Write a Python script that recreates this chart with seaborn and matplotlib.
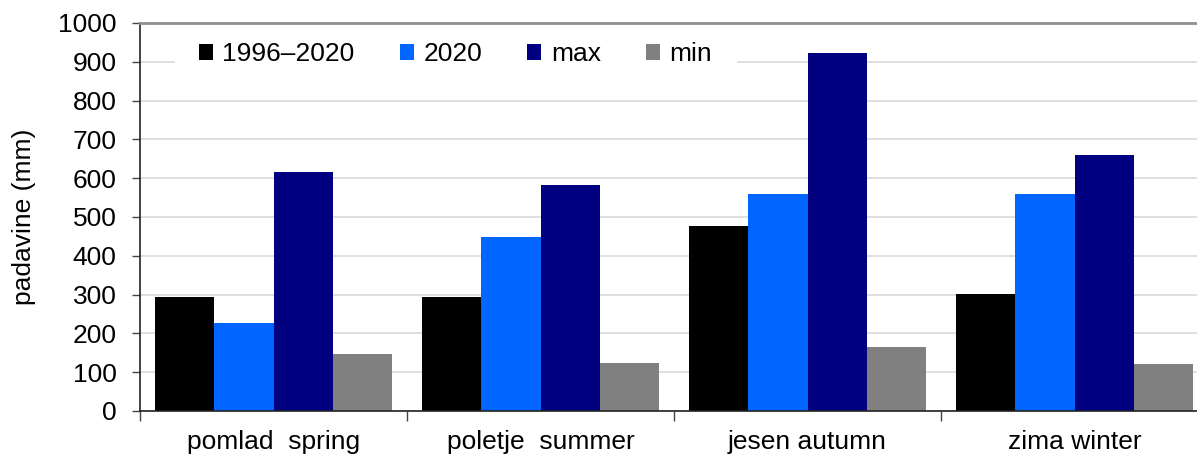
import matplotlib
matplotlib.use("Agg")
import matplotlib.pyplot as plt
import seaborn as sns
import pandas as pd

seasons = ["pomlad  spring", "poletje  summer", "jesen autumn", "zima winter"]
series = ["1996–2020", "2020", "max", "min"]
v_mean = [293, 293, 478, 301]
v_2020 = [227, 448, 558, 559]
v_max = [616, 582, 923, 660]
v_min = [148, 123, 165, 122]
colors = ["#000000", "#0066FF", "#000080", "#808080"]
yticks = list(range(0, 1001, 100))

rows = []
for name, vals in zip(series, [v_mean, v_2020, v_max, v_min]):
    for s, v in zip(seasons, vals):
        rows.append({"season": s, "series": name, "value": v})
df = pd.DataFrame(rows)

sns.set_theme(style="white")
plt.rcParams["font.family"] = ["Liberation Sans", "DejaVu Sans"]
plt.rcParams["text.color"] = "black"
plt.rcParams["axes.labelcolor"] = "black"
plt.rcParams["xtick.color"] = "black"
plt.rcParams["ytick.color"] = "black"

FS = 19
W, H = 1197, 455
fig = plt.figure(figsize=(W / 100, H / 100), dpi=100)
ax_left, ax_right, ax_top, ax_bottom = 140, 1208, 23, 411
ax = fig.add_axes([ax_left / W, 1 - ax_bottom / H, (ax_right - ax_left) / W, (ax_bottom - ax_top) / H])

sns.barplot(data=df, x="season", y="value", hue="series", palette=colors,
            width=0.888, gap=0, ax=ax, legend=True, saturation=1,
            edgecolor="none", linewidth=0)

ax.set_ylim(0, 1000)
ax.set_xlim(-0.5, 3.5)
ax.set_yticks(yticks)
ax.set_yticklabels([str(t) for t in yticks], fontsize=FS, color="black")
ax.yaxis.grid(True, color="#d9d9d9", linewidth=1.2)
ax.set_axisbelow(True)
ax.tick_params(axis="y", length=6, width=1, color="#444444", pad=11, left=True)
ax.set_xticks([0, 1, 2, 3])
ax.set_xticklabels(seasons, fontsize=FS, color="black")
ax.tick_params(axis="x", which="major", length=0, pad=14)
ax.set_xticks([-0.5, 0.5, 1.5, 2.5, 3.5], minor=True)
ax.tick_params(axis="x", which="minor", length=7, width=1, color="#444444", bottom=True)
ax.set_xlabel("")
ax.set_ylabel("padavine (mm)", fontsize=FS, color="black")
ax.yaxis.set_label_coords(-(140 - 36) / (ax_right - ax_left), 0.5)

for side in ["left", "bottom"]:
    ax.spines[side].set_color("#222222")
    ax.spines[side].set_linewidth(1.2)
ax.spines["top"].set_color("#909090")
ax.spines["top"].set_linewidth(2)
ax.spines["right"].set_visible(False)

handles, labels = ax.get_legend_handles_labels()
leg = ax.legend(handles, labels, ncol=4, loc="center left",
                bbox_to_anchor=(175 / W, 1 - 54 / H), bbox_transform=fig.transFigure,
                fontsize=FS, frameon=True, facecolor="white", edgecolor="white", framealpha=1,
                handlelength=0.55, handleheight=0.55, handletextpad=0.35, columnspacing=1.7,
                borderpad=0.9, borderaxespad=0, fancybox=False)
leg.set_zorder(2)

fig.savefig("out.png", dpi=100)
